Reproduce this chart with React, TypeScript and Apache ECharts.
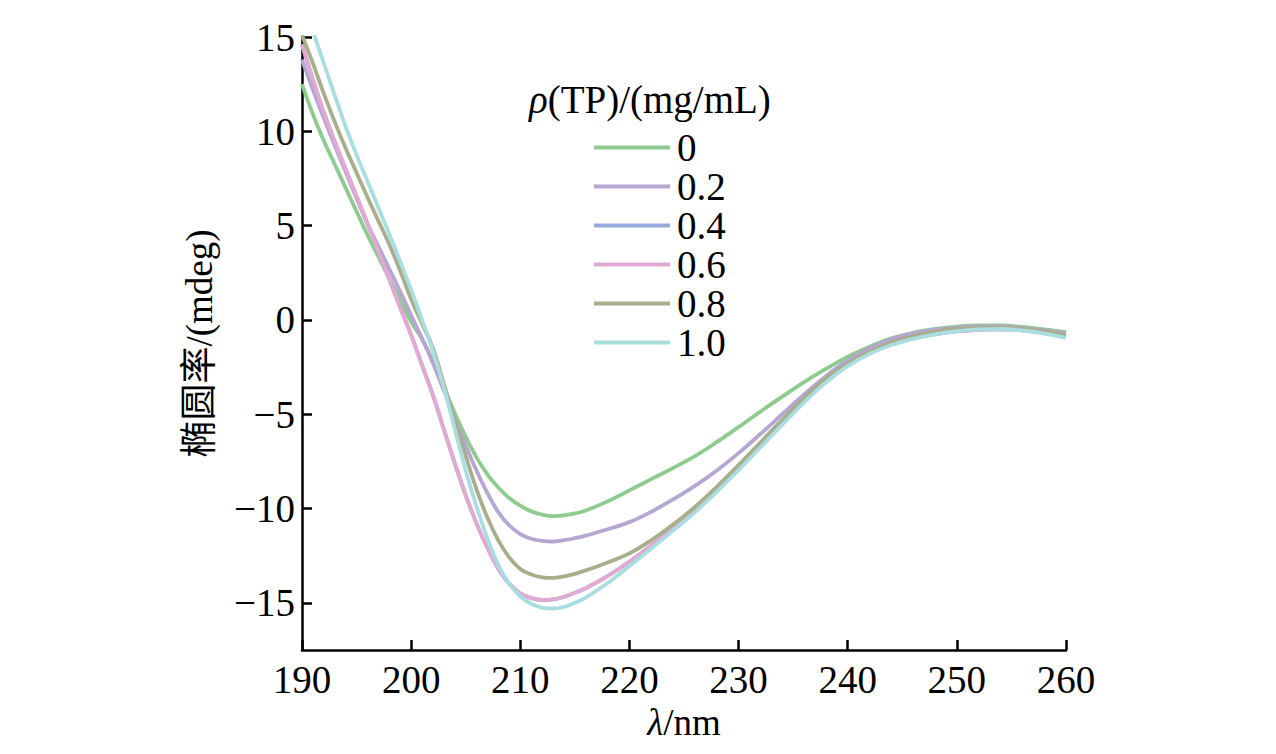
import React, { useEffect, useRef } from "react";
import * as echarts from "echarts";

const wavelengths = [
  190, 191, 192, 193, 194, 195, 196, 197, 198, 199, 200, 201, 202, 203, 204, 205,
  206, 207, 208, 209, 210, 211, 212, 213, 214, 215, 216, 218, 220, 222, 224, 226,
  228, 230, 232, 234, 236, 238, 240, 242, 244, 246, 248, 250, 252, 254, 256, 258, 260,
];

const rho00 = [
  12.5, 10.9, 9.5, 8.25, 7.0, 5.75, 4.5, 3.35, 2.2, 1.05, -0.1, -1.0, -2.2, -3.6, -4.95, -6.2,
  -7.3, -8.2, -8.9, -9.45, -9.85, -10.15, -10.32, -10.4, -10.36, -10.26, -10.1, -9.62, -9.04, -8.44, -7.85, -7.22,
  -6.48, -5.68, -4.86, -4.07, -3.3, -2.6, -1.95, -1.42, -0.98, -0.68, -0.48, -0.35, -0.29, -0.29, -0.37, -0.5, -0.65,
];

const rho02 = [
  13.8, 12.2, 10.7, 9.25, 7.85, 6.45, 5.1, 3.9, 2.7, 1.5, 0.25, -1.0, -2.3, -3.75, -5.2, -6.65,
  -8.0, -9.2, -10.2, -10.9, -11.35, -11.6, -11.72, -11.75, -11.68, -11.57, -11.44, -11.1, -10.72, -10.17, -9.52, -8.8,
  -7.98, -7.06, -6.05, -5.0, -3.95, -2.98, -2.15, -1.5, -1.02, -0.72, -0.52, -0.41, -0.35, -0.35, -0.43, -0.55, -0.7,
];

const rho04 = [
  14.6, 12.75, 11.0, 9.45, 8.0, 6.55, 5.1, 3.65, 2.15, 0.65, -0.8, -2.4, -4.0, -5.8, -7.6, -9.3,
  -10.8, -12.1, -13.2, -14.0, -14.5, -14.75, -14.85, -14.82, -14.68, -14.47, -14.22, -13.58, -12.82, -11.95, -11.02, -10.05,
  -8.98, -7.82, -6.62, -5.42, -4.28, -3.22, -2.35, -1.72, -1.28, -0.97, -0.75, -0.6, -0.52, -0.5, -0.55, -0.67, -0.85,
];

const rho06 = [
  14.6, 12.75, 11.0, 9.45, 8.0, 6.55, 5.1, 3.65, 2.15, 0.65, -0.8, -2.4, -4.0, -5.8, -7.6, -9.3,
  -10.8, -12.1, -13.2, -14.0, -14.5, -14.75, -14.85, -14.82, -14.68, -14.47, -14.22, -13.58, -12.82, -11.95, -11.02, -10.05,
  -8.98, -7.82, -6.62, -5.42, -4.28, -3.22, -2.35, -1.72, -1.28, -0.97, -0.75, -0.6, -0.52, -0.5, -0.55, -0.67, -0.85,
];

const rho08 = [
  15.1, 13.6, 12.0, 10.5, 9.1, 7.8, 6.5, 5.25, 4.0, 2.6, 1.1, -0.2, -1.5, -3.4, -5.3, -7.2,
  -9.0, -10.5, -11.7, -12.6, -13.2, -13.5, -13.65, -13.68, -13.6, -13.46, -13.28, -12.86, -12.38, -11.68, -10.85, -9.92,
  -8.85, -7.7, -6.5, -5.3, -4.15, -3.1, -2.3, -1.68, -1.2, -0.86, -0.62, -0.48, -0.41, -0.4, -0.47, -0.6, -0.8,
];

const rho10 = [
  null, 15.3, 13.6, 11.9, 10.25, 8.75, 7.35, 5.95, 4.55, 3.1, 1.6, 0.0, -1.65, -3.6, -5.8, -8.0,
  -9.9, -11.6, -13.0, -14.0, -14.65, -15.05, -15.25, -15.3, -15.22, -15.0, -14.72, -13.95, -13.05, -12.12, -11.17, -10.2,
  -9.12, -7.96, -6.76, -5.55, -4.38, -3.32, -2.45, -1.8, -1.33, -1.0, -0.76, -0.6, -0.5, -0.48, -0.56, -0.72, -0.95,
];

const seriesNames = ["0", "0.2", "0.4", "0.6", "0.8", "1.0"];
const seriesValues = [rho00, rho02, rho04, rho06, rho08, rho10];
const seriesColors = ["#8ecb8e", "#b5a6d2", "#98a9dc", "#e2a9d3", "#a8ae8c", "#a9dde0"];

const xTicks = [190, 200, 210, 220, 230, 240, 250, 260];
const yTicks = [-15, -10, -5, 0, 5, 10, 15];

const FONT = "'Liberation Serif', 'Times New Roman', 'Noto Sans CJK SC', serif";

const fmt = (v: number) => (v < 0 ? "\u2212" + Math.abs(v) : String(v));

export default function App() {
  const ref = useRef<HTMLDivElement>(null);

  useEffect(() => {
    if (!ref.current) return;
    const chart = echarts.init(ref.current, null, { renderer: "svg" });
    const option = {
      animation: false,
      backgroundColor: "#ffffff",
      title: {
        text: "{i|\u03c1}(TP)/(mg/mL)",
        left: 529,
        top: 80,
        padding: 0,
        textStyle: {
          fontFamily: FONT,
          fontSize: 39,
          fontWeight: "normal",
          color: "#000",
          rich: {
            i: { fontFamily: FONT, fontSize: 39, fontStyle: "italic", color: "#000" },
          },
        },
      },
      legend: {
        orient: "vertical",
        left: 594,
        top: 128,
        padding: 0,
        itemWidth: 76,
        itemHeight: 4,
        itemGap: 0,
        icon: "rect",
        data: seriesNames,
        textStyle: {
          fontFamily: FONT,
          fontSize: 39,
          lineHeight: 39,
          color: "#000",
          padding: [0, 0, 0, 2],
        },
      },
      grid: { left: 302, right: 210, top: 37, bottom: 104, containLabel: false },
      xAxis: {
        type: "value",
        min: 190,
        max: 260,
        interval: 10,
        name: "{i|\u03bb}/nm",
        nameLocation: "middle",
        nameGap: 52,
        nameTextStyle: {
          fontFamily: FONT,
          fontSize: 37,
          color: "#000",
          rich: { i: { fontFamily: FONT, fontSize: 37, fontStyle: "italic", color: "#000" } },
        },
        axisLine: { onZero: false, lineStyle: { color: "#000", width: 2.5 } },
        axisTick: { inside: true, length: 10, lineStyle: { color: "#000", width: 2.5 }, customValues: xTicks },
        axisLabel: { fontFamily: FONT, fontSize: 39, color: "#000", margin: 10, customValues: xTicks },
        splitLine: { show: false },
      },
      yAxis: {
        type: "value",
        min: -17.5,
        max: 15,
        name: "\u692d\u5706\u7387/(mdeg)",
        nameLocation: "middle",
        nameGap: 84,
        nameTextStyle: { fontFamily: FONT, fontSize: 37, color: "#000" },
        axisLine: { onZero: false, lineStyle: { color: "#000", width: 2.5 } },
        axisTick: { inside: true, length: 10, lineStyle: { color: "#000", width: 2.5 }, customValues: yTicks },
        axisLabel: {
          fontFamily: FONT,
          fontSize: 39,
          color: "#000",
          margin: 7,
          customValues: yTicks,
          formatter: (v: number) => fmt(v),
        },
        splitLine: { show: false },
      },
      series: seriesNames.map((name, k) => ({
        name,
        type: "line",
        smooth: 0.4,
        showSymbol: false,
        symbol: "none",
        color: seriesColors[k],
        lineStyle: { width: 3.8, color: seriesColors[k] },
        data: wavelengths
          .map((w, i) => [w, seriesValues[k][i]])
          .filter((p) => p[1] !== null),
      })),
    };
    chart.setOption(option as any);
    return () => chart.dispose();
  }, []);

  return (
    <div
      ref={ref}
      style={{ position: "fixed", left: 0, top: 0, width: 1276, height: 754, background: "#fff" }}
    />
  );
}
